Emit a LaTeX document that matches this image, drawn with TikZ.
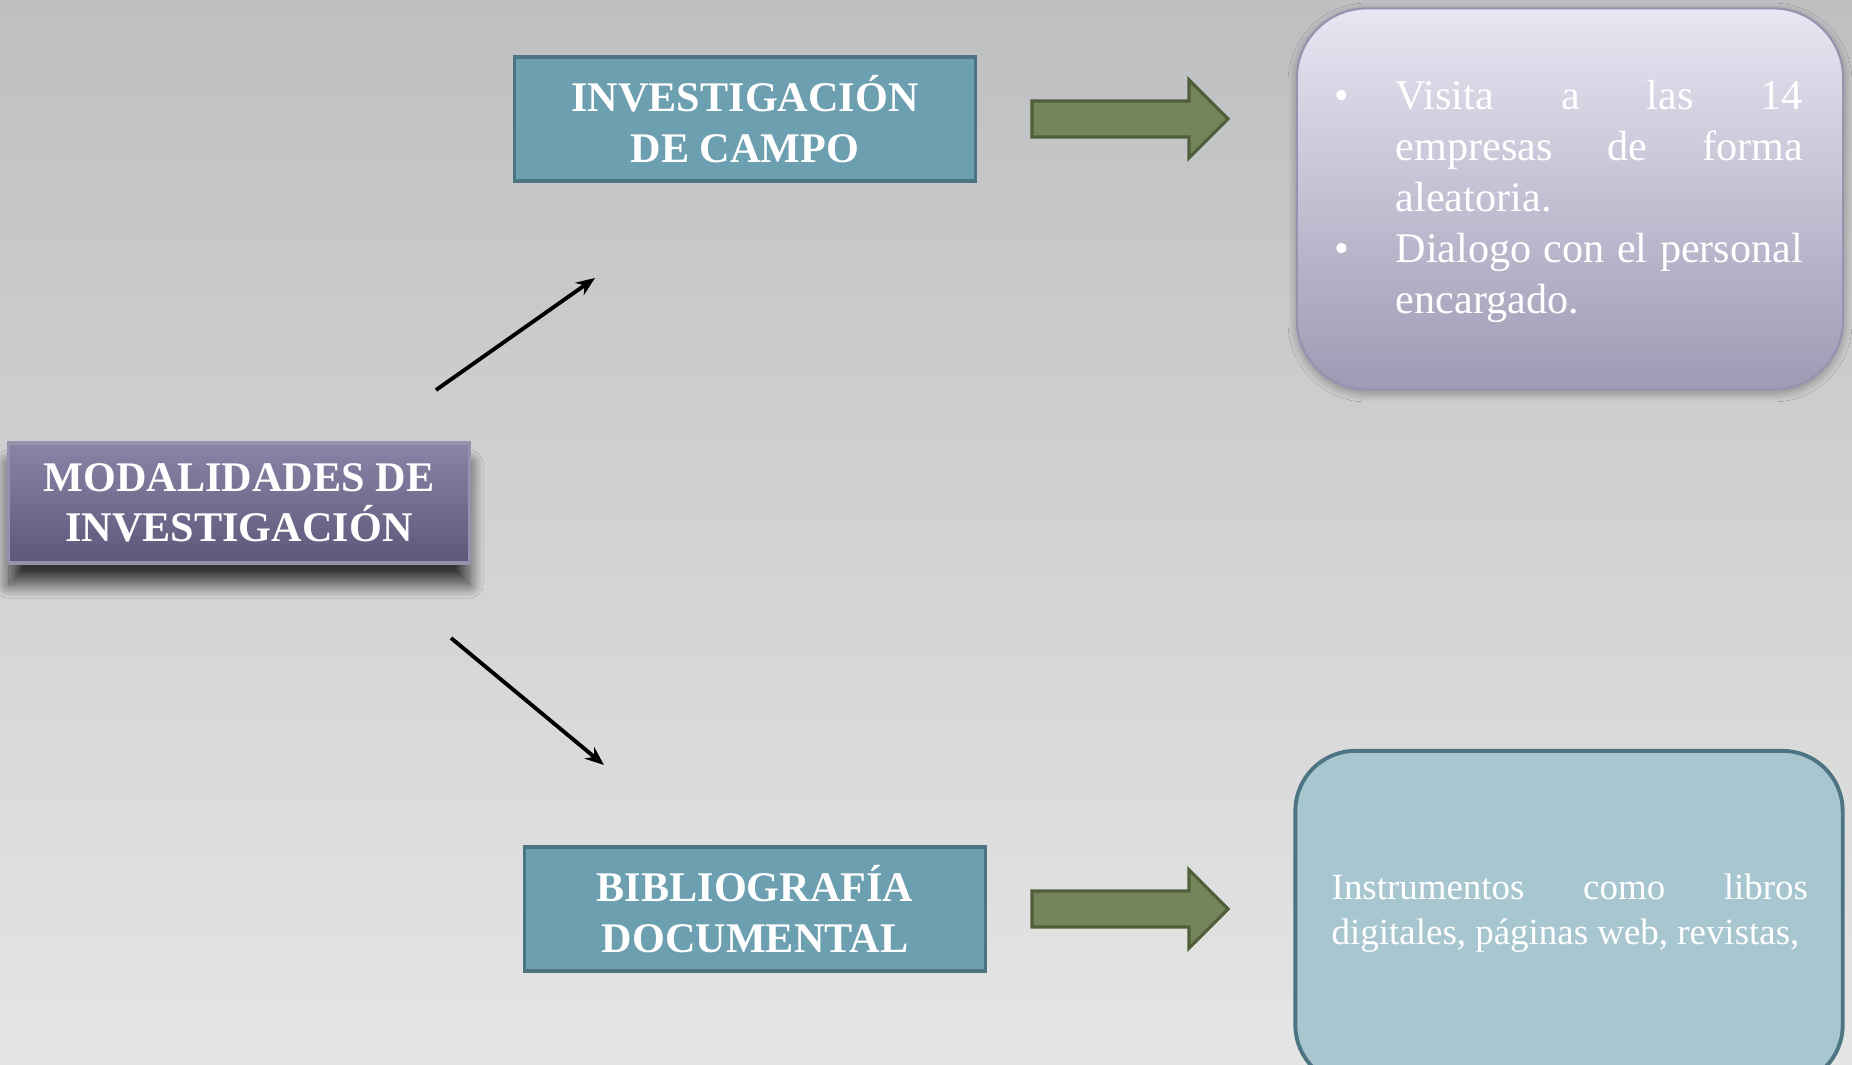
\documentclass[tikz,border=0pt]{standalone}
\usepackage{fontspec}
\setmainfont{Liberation Serif}
\usetikzlibrary{arrows.meta,shadows.blur}
\definecolor{fondoarriba}{RGB}{190,191,193}
\definecolor{fondoabajo}{RGB}{229,229,229}
\definecolor{moradoarriba}{RGB}{138,133,166}
\definecolor{moradoabajo}{RGB}{93,88,122}
\definecolor{bordemorado}{RGB}{150,146,172}
\definecolor{azulcaja}{RGB}{108,159,176}
\definecolor{bordeazul}{RGB}{77,116,130}
\definecolor{verdeflecha}{RGB}{118,132,92}
\definecolor{bordeverde}{RGB}{79,95,58}
\definecolor{lilaarriba}{RGB}{232,230,242}
\definecolor{lilaabajo}{RGB}{157,154,180}
\definecolor{bordelila}{RGB}{150,146,175}
\definecolor{celeste}{RGB}{168,198,208}

\begin{document}
\begin{tikzpicture}[x=0.01cm,y=-0.01cm,
  titulo/.style={draw=bordeazul,fill=azulcaja,line width=0.9pt,minimum width=4.61cm,minimum height=1.24cm,
    align=center,text=white,font=\fontsize{12}{14.4}\selectfont\bfseries},
  bloque/.style={draw=bordeverde,fill=verdeflecha,line width=0.9pt},
  flecha/.style={line width=1.1pt,-{Stealth[length=0.19cm,width=0.15cm]}},
  texto/.style={anchor=base west,inner sep=0pt,align=justify,text=white},
  punto/.style={anchor=base,inner sep=0pt,text=white,font=\fontsize{12}{14.4}\selectfont}]
\useasboundingbox (0,0) rectangle (1852,1065);
\shade[top color=fondoarriba,bottom color=fondoabajo] (0,0) rectangle (1852,1065);

\node (modal) [draw=bordemorado,line width=0.9pt,top color=moradoarriba,bottom color=moradoabajo,
  minimum width=4.6cm,minimum height=1.2cm,align=center,text=white,font=\fontsize{12}{14.4}\selectfont\bfseries,
  blur shadow={shadow xshift=0pt,shadow yshift=-6pt,shadow blur radius=4pt,shadow blur steps=20,shadow opacity=75}]
  at (239,503) {MODALIDADES DE\\INVESTIGACIÓN};

\node (campo) [titulo] at (745,119) {INVESTIGACIÓN\\DE CAMPO};
\node (biblio) [titulo] at (755,909) {BIBLIOGRAFÍA\\DOCUMENTAL};

\coordinate (s1) at (436,390);
\coordinate (e1) at (595,278);
\coordinate (s2) at (451,638);
\coordinate (e2) at (604,765);
\draw[flecha] (s1) -- (e1);
\draw[flecha] (s2) -- (e2);

\foreach \y in {119,909}
  \draw[bloque] (1032,\y-18) -- (1189,\y-18) -- (1189,\y-39) -- (1228,\y)
    -- (1189,\y+39) -- (1189,\y+18) -- (1032,\y+18) -- cycle;

\node (visita) [draw=bordelila,line width=0.6pt,top color=lilaarriba,bottom color=lilaabajo,
  rounded corners=0.7cm,minimum width=5.46cm,minimum height=3.81cm,
  blur shadow={shadow xshift=0pt,shadow yshift=-1pt,shadow blur radius=2.5pt,shadow blur steps=15,shadow opacity=35}]
  at (1570,199) {};
\node (punto1) [punto] at (1342,110) {\textbullet};
\node (texto1) [texto,text width=4.07cm,font=\fontsize{12}{14.4}\selectfont] at (1395,110)
  {Visita a las 14\linebreak empresas de forma\linebreak aleatoria.};
\node (punto2) [punto] at (1342,263) {\textbullet};
\node (texto2) [texto,text width=4.07cm,font=\fontsize{12}{14.4}\selectfont] at (1395,263)
  {Dialogo con el personal\linebreak encargado.};

\node (instrumentos) [draw=bordeazul,fill=celeste,line width=1.1pt,rounded corners=0.6cm,
  minimum width=5.47cm,minimum height=3.34cm] at (1569,918) {};
\node (texto3) [texto,text width=4.76cm,font=\fontsize{10.5}{12.7}\selectfont] at (1331,900)
  {Instrumentos como libros\linebreak digitales, páginas web, revistas,};
\end{tikzpicture}
\end{document}
